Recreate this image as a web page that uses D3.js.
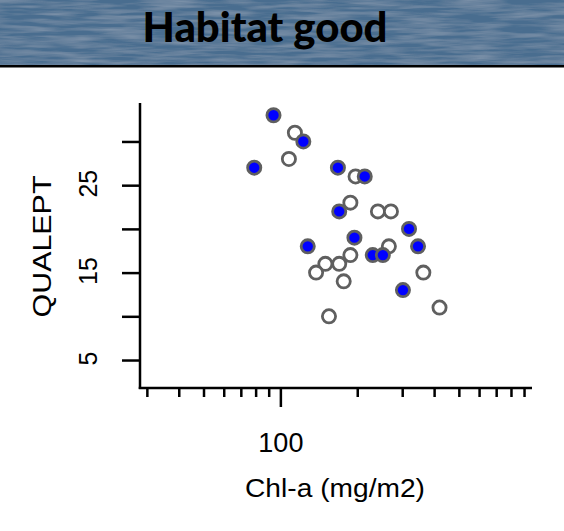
<!DOCTYPE html>
<html>
<head>
<meta charset="utf-8">
<script src="https://cdn.jsdelivr.net/npm/d3@7"></script>
<style>
  body { margin: 0; background: #fff; }
  svg { display: block; }
</style>
</head>
<body>
<div id="chart"></div>
<script>
// sites with good habitat (filled) and the rest (open)
const goodChl  = [94, 123, 79, 168, 214, 170, 319, 195, 128, 346, 230, 252, 302];
const goodQual = [33, 30, 27, 27, 26, 22, 20, 19, 18, 18, 17, 17, 13];
const otherChl  = [114, 108, 197, 188, 241, 271, 266, 188, 150, 170, 138, 177, 363, 420, 155];
const otherQual = [31, 28, 26, 23, 22, 22, 18, 17, 16, 16, 15, 14, 15, 11, 10];

const xTicks = [30, 40, 50, 60, 70, 80, 90, 100, 200, 300, 400, 500, 600, 700, 800, 900];
const xLabels = [100];
const yTicks = [5, 10, 15, 20, 25, 30];
const yLabels = [5, 15, 25];

const width = 564, height = 531;

const svg = d3.select("#chart").append("svg")
    .attr("width", width)
    .attr("height", height);

// header banner with a faint mottled texture
const defs = svg.append("defs");
const filt = defs.append("filter").attr("id", "streaks")
    .attr("x", 0).attr("y", 0).attr("width", "100%").attr("height", "100%");
filt.append("feTurbulence")
    .attr("type", "fractalNoise")
    .attr("baseFrequency", "0.02 0.25")
    .attr("numOctaves", 3)
    .attr("seed", 4)
    .attr("result", "noise");
filt.append("feColorMatrix")
    .attr("in", "noise")
    .attr("type", "matrix")
    .attr("values", "0 0 0 0 0.8  0 0 0 0 0.86  0 0 0 0 0.92  0.35 0 0 0 -0.12")
    .attr("result", "light");
filt.append("feComposite").attr("in", "light").attr("in2", "SourceGraphic").attr("operator", "atop");

svg.append("rect")
    .attr("x", 0).attr("y", 0)
    .attr("width", width).attr("height", 65)
    .attr("fill", "#486d8f")
    .attr("filter", "url(#streaks)");
svg.append("rect")
    .attr("x", 0).attr("y", 65)
    .attr("width", width).attr("height", 2.5)
    .attr("fill", "#000");

svg.append("text")
    .attr("x", 265).attr("y", 42)
    .attr("text-anchor", "middle")
    .attr("textLength", 245)
    .attr("lengthAdjust", "spacingAndGlyphs")
    .style("font-family", "Lato, 'DejaVu Sans', sans-serif")
    .style("font-weight", "900")
    .style("font-size", "41px")
    .text("Habitat good");

// scales
const x = d3.scaleLog().domain([28.2, 967]).range([140, 532]);
const y = d3.scaleLinear().domain([1.8, 34.4]).range([388, 103]);

const tickFont = "Liberation Sans, Arial, sans-serif";

// y axis
const yAxis = svg.append("g")
    .attr("transform", "translate(140,0)")
    .call(d3.axisLeft(y).tickValues(yTicks).tickSize(18)
        .tickFormat(d => yLabels.includes(d) ? d : ""));
yAxis.select(".domain").remove();
yAxis.selectAll(".tick line").attr("stroke", "#000").attr("stroke-width", 2.5);
yAxis.selectAll(".tick text")
    .attr("x", null).attr("dy", null)
    .attr("text-anchor", "middle")
    .attr("transform", "translate(-43,-2) rotate(-90)")
    .style("font-family", tickFont)
    .style("font-size", "25px")
    .attr("fill", "#000");
svg.append("line")
    .attr("x1", 140).attr("x2", 140)
    .attr("y1", y.range()[1]).attr("y2", y.range()[0] + 1)
    .attr("stroke", "#000").attr("stroke-width", 2.5);

// x axis
const xAxis = svg.append("g")
    .attr("transform", "translate(0,388)")
    .call(d3.axisBottom(x).tickValues(xTicks).tickSize(9)
        .tickFormat(d => xLabels.includes(d) ? d : ""));
xAxis.select(".domain").remove();
xAxis.selectAll(".tick line")
    .attr("stroke", "#000").attr("stroke-width", 2.5)
    .attr("y2", d => xLabels.includes(d) ? 19 : 9);
xAxis.selectAll(".tick text")
    .attr("y", 64).attr("dy", null)
    .style("font-family", tickFont)
    .style("font-size", "27px")
    .attr("fill", "#000");
svg.append("line")
    .attr("x1", x.range()[0] - 1.25).attr("x2", x.range()[1])
    .attr("y1", 388).attr("y2", 388)
    .attr("stroke", "#000").attr("stroke-width", 2.5);

// axis titles
svg.append("text")
    .attr("transform", `translate(51,${(y.range()[0] + y.range()[1]) / 2 + 1}) rotate(-90)`)
    .attr("text-anchor", "middle")
    .attr("textLength", 142)
    .attr("lengthAdjust", "spacingAndGlyphs")
    .style("font-family", tickFont)
    .style("font-size", "25px")
    .text("QUALEPT");

svg.append("text")
    .attr("x", 335).attr("y", 497)
    .attr("text-anchor", "middle")
    .attr("textLength", 180)
    .attr("lengthAdjust", "spacingAndGlyphs")
    .style("font-family", tickFont)
    .style("font-size", "26px")
    .text("Chl-a (mg/m2)");

// points
const other = otherChl.map((c, i) => ({chl: c, q: otherQual[i]}));
const good = goodChl.map((c, i) => ({chl: c, q: goodQual[i]}));

svg.append("g").selectAll("circle").data(other).enter()
    .append("circle")
    .attr("cx", d => x(d.chl))
    .attr("cy", d => y(d.q))
    .attr("r", 6.6)
    .attr("fill", "#fff")
    .attr("stroke", "#5f5f5f")
    .attr("stroke-width", 2.8);

svg.append("g").selectAll("circle").data(good).enter()
    .append("circle")
    .attr("cx", d => x(d.chl))
    .attr("cy", d => y(d.q))
    .attr("r", 6.6)
    .attr("fill", "#0000ff")
    .attr("stroke", "#5f5f5f")
    .attr("stroke-width", 2.8);
</script>
</body>
</html>
